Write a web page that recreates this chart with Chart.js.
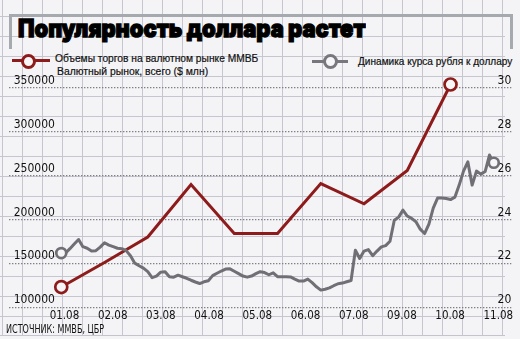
<!DOCTYPE html>
<html>
<head>
<meta charset="utf-8">
<script src="https://cdn.jsdelivr.net/npm/chart.js@4.4.1/dist/chart.umd.min.js"></script>
<style>
  html, body { margin: 0; padding: 0; }
  body { width: 520px; height: 339px; overflow: hidden; background: #f4f4f6; }
  #wrap { position: relative; width: 520px; height: 339px; }
  #paper {
    position: absolute; left: 0; top: 0; width: 505px; height: 335px;
    border-bottom: 1px solid #c4c4cc;
    background-image:
      linear-gradient(to right, #c6c6d0 1px, transparent 1px),
      linear-gradient(to bottom, #c6c6d0 1px, transparent 1px);
    background-size: 20px 20px;
    background-position: 2px -4px;
  }
  #titleBox {
    position: absolute; left: 9px; top: 14px; width: 498px; height: 32px;
    border: 3px solid #a6a9ae; border-bottom: none;
  }
  #chart { position: absolute; left: 0; top: 0; }
  .txt { position: absolute; white-space: nowrap; transform-origin: 0 50%; color: #111; }
  #title {
    left: 18px; top: 14px; font: 900 24px Inter, "Noto Sans", sans-serif; color: #000; line-height: 30px;
    -webkit-text-stroke: 1.3px #000;
  }
  .leg { font: 11px "Liberation Sans", Arial, sans-serif; line-height: 12px; -webkit-text-stroke: 0.2px #111; }
  #source { left: 6px; top: 323px; font: 11.5px "Liberation Sans Narrow", "DejaVu Sans Condensed", sans-serif; line-height: 12px; }
  .key { position: absolute; height: 3px; }
  .ring { position: absolute; width: 9px; height: 9px; border-radius: 50%; border: 3px solid; background: #f6f6f8; }
</style>
</head>
<body>
<div id="wrap">
  <div id="paper"></div>
  <div id="titleBox"></div>
  <div id="title" class="txt" data-w="347">Популярность доллара растет</div>

  <div class="key" style="left:12px;top:59px;width:38px;background:#8e1b1b"></div>
  <div class="ring" style="left:21px;top:54px;border-color:#8e1b1b"></div>
  <div class="txt leg" style="left:55px;top:52px" data-w="203">Объемы торгов на валютном рынке ММВБ</div>
  <div class="txt leg" style="left:57px;top:65px" data-w="151">Валютный рынок, всего ($ млн)</div>

  <div class="key" style="left:312px;top:60px;width:36px;background:#77777d"></div>
  <div class="ring" style="left:323px;top:54px;border-color:#77777d"></div>
  <div class="txt leg" style="left:358px;top:55px" data-w="154">Динамика курса рубля к доллару</div>

  <canvas id="chart" width="520" height="339"></canvas>
  <div id="source" class="txt" data-w="98">ИСТОЧНИК: ММВБ, ЦБР</div>
</div>

<script>
// axis labels along the bottom (no 08.08 in the series)
const monthTicks = ['01.08', '02.08', '03.08', '04.08', '05.08', '06.08', '07.08', '09.08', '10.08', '11.08'];

// MICEX FX trading volume, $ mln, one value per month
const volumeMonths = [1, 2, 3, 4, 5, 6, 7, 8, 9, 10];
const volumeMln = [123000, 151000, 180000, 240000, 184000, 184000, 241000, 218000, 256000, 354000];

// rouble per dollar, sampled every 0.1 month starting at month 1
const rateStart = 1;
const rateStep = 0.1;
const rubPerUsd = [
  22.47, 22.47, 22.67, 22.88, 23.09, 22.76, 22.69, 22.56, 22.58, 22.74,
  22.94, 22.83, 22.76, 22.69, 22.67, 22.58, 22.35, 22.01, 21.89, 21.78,
  21.62, 21.35, 21.42, 21.60, 21.62, 21.39, 21.37, 21.46, 21.39, 21.32,
  21.23, 21.15, 21.08, 21.16, 21.21, 21.44, 21.55, 21.65, 21.74, 21.75,
  21.64, 21.53, 21.42, 21.37, 21.42, 21.53, 21.62, 21.58, 21.48, 21.57,
  21.39, 21.39, 21.39, 21.38, 21.28, 21.19, 21.19, 21.28, 21.12, 20.93,
  20.78, 20.82, 20.88, 20.98, 21.07, 21.10, 21.16, 21.22, 22.60, 22.22,
  22.56, 22.63, 22.35, 22.56, 22.75, 22.81, 23.01, 23.97, 24.11, 24.43,
  24.16, 24.05, 23.90, 23.56, 23.36, 23.79, 24.52, 24.98, 24.98, 24.96,
  24.91, 25.02, 25.57, 26.21, 26.63, 25.57, 26.21, 26.07, 26.19, 26.94,
  26.59
];

const volumeTicks = [100000, 150000, 200000, 250000, 300000, 350000];
const rateTicks = [20, 22, 24, 26, 28, 30];

const red = '#8e1b1b';
const gray = '#6f6f75';
const tickFont = { family: '"Liberation Sans Narrow", "DejaVu Sans Condensed", sans-serif', size: 12 };

// ring only on the first and the last point
function endRing(r) {
  return ctx => (ctx.dataIndex === 0 || ctx.dataIndex === ctx.dataset.data.length - 1) ? r : 0;
}

const rateData = rubPerUsd.map((v, i) => ({ x: rateStart + i * rateStep, y: v }));
const volumeData = volumeMonths.map((m, i) => ({ x: m, y: volumeMln[i] }));

new Chart(document.getElementById('chart'), {
  type: 'line',
  data: {
    datasets: [
      {
        label: 'Динамика курса рубля к доллару',
        data: rateData,
        xAxisID: 'xm',
        yAxisID: 'yRate',
        borderColor: gray,
        borderWidth: 3,
        borderJoinStyle: 'round',
        pointRadius: endRing(5),
        pointBorderWidth: 2.7,
        pointBorderColor: gray,
        pointBackgroundColor: '#f6f6f8',
        clip: false
      },
      {
        label: 'Объемы торгов на валютном рынке ММВБ',
        data: volumeData,
        xAxisID: 'xm',
        yAxisID: 'yVol',
        borderColor: red,
        borderWidth: 3,
        pointRadius: endRing(6),
        pointBorderWidth: 2.7,
        pointBorderColor: red,
        pointBackgroundColor: '#f6f6f8',
        clip: false
      }
    ]
  },
  options: {
    responsive: false,
    animation: false,
    devicePixelRatio: 1,
    layout: { padding: { left: -4, right: 8, top: 88, bottom: 14 } },
    plugins: { legend: { display: false }, tooltip: { enabled: false } },
    scales: {
      x: {
        type: 'linear',
        position: 'bottom',
        min: -1.157,
        max: 9.269,
        afterBuildTicks: s => { s.ticks = monthTicks.map((_, i) => ({ value: i })); },
        ticks: {
          callback: v => monthTicks[v],
          font: { ...tickFont, size: 11.5 },
          color: '#111',
          padding: 2,
          maxRotation: 0,
          autoSkip: false
        },
        grid: { display: false, drawTicks: false },
        border: { display: false }
      },
      xm: { type: 'linear', display: false, min: -0.2153, max: 11.405 },
      yVol: {
        position: 'left',
        min: 100000,
        max: 350000,
        afterBuildTicks: s => { s.ticks = volumeTicks.map(v => ({ value: v })); },
        ticks: { mirror: true, padding: 5, labelOffset: -7, font: tickFont, color: '#111', callback: v => String(v) },
        grid: { color: '#7f7f85', lineWidth: 1.3, drawTicks: false },
        border: { display: false, dash: [1.4, 1.6] }
      },
      yRate: {
        position: 'right',
        min: 20,
        max: 30,
        afterBuildTicks: s => { s.ticks = rateTicks.map(v => ({ value: v })); },
        ticks: { mirror: true, padding: 0, labelOffset: -7, font: tickFont, color: '#111', callback: v => String(v) },
        grid: { display: false, drawTicks: false },
        border: { display: false }
      }
    }
  }
});

// squeeze overlay texts to their measured widths
function fitTexts() {
  document.querySelectorAll('[data-w]').forEach(el => {
    el.style.transform = 'none';
    const k = +el.dataset.w / el.offsetWidth;
    el.style.transform = 'scaleX(' + k.toFixed(3) + ')';
  });
}
fitTexts();
document.fonts.ready.then(fitTexts);
</script>
</body>
</html>
